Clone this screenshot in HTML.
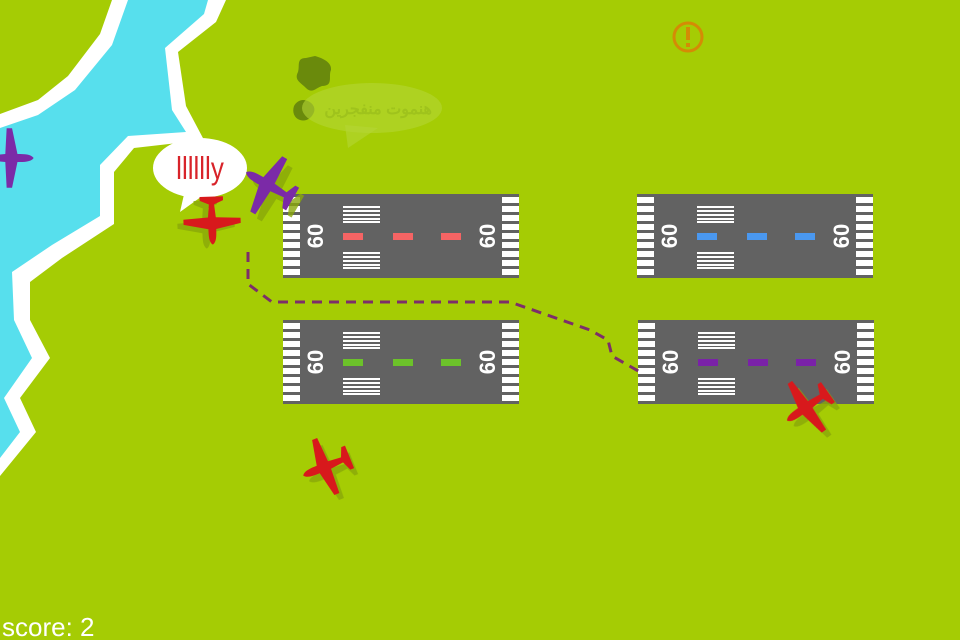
<!DOCTYPE html>
<html><head><meta charset="utf-8"><style>
html,body{margin:0;padding:0;background:#a5cc04;width:960px;height:640px;overflow:hidden}
svg{display:block}
text{font-family:"Liberation Sans",sans-serif}
</style></head><body>
<svg width="960" height="640" viewBox="0 0 960 640" xmlns="http://www.w3.org/2000/svg">
<defs>
<g id="stripes">
<rect x="0" y="3" width="17" height="6" fill="#fff"/><rect x="0" y="12" width="17" height="6" fill="#fff"/><rect x="0" y="21" width="17" height="6" fill="#fff"/><rect x="0" y="30" width="17" height="6" fill="#fff"/><rect x="0" y="39" width="17" height="6" fill="#fff"/><rect x="0" y="48" width="17" height="6" fill="#fff"/><rect x="0" y="57" width="17" height="6" fill="#fff"/><rect x="0" y="66" width="17" height="6" fill="#fff"/><rect x="0" y="75" width="17" height="6" fill="#fff"/>
</g>
<g id="bars">
<rect x="0" y="0" width="37" height="2" fill="#fff"/><rect x="0" y="4" width="37" height="2" fill="#fff"/><rect x="0" y="8" width="37" height="2" fill="#fff"/><rect x="0" y="12" width="37" height="2" fill="#fff"/><rect x="0" y="15" width="37" height="2" fill="#fff"/>
</g>
<g id="rw">
<rect x="0" y="0" width="236" height="84" fill="#626262"/>
<use href="#stripes"/><use href="#stripes" x="219"/>
<use href="#bars" x="60" y="12"/><use href="#bars" x="60" y="58"/>
</g>
<g id="plane">
<path d="M0,-19 C3,-17 3,-12 3,-7 L22,-3 L22,1 L3,2 L2,12 L9,15 L9,18 L-9,18 L-9,15 L-2,12 L-3,2 L-22,1 L-22,-3 L-3,-7 C-3,-12 -3,-17 0,-19Z"/>
</g>
</defs>

<!-- river -->
<path d="M0,114 L38,100 L68,76 L100,34 L112,0 L226,0 L216,22 L178,52 L186,106 L204,140 L134,148 L114,172 L114,224 L62,258 L30,282 L30,320 L50,358 L20,398 L36,432 L0,476 Z" fill="#fff"/>
<path d="M0,128 L38,115 L75,90 L112,45 L128,0 L208,0 L204,14 L165,48 L172,110 L186,132 L128,136 L100,165 L100,216 L52,245 L12,272 L14,320 L32,358 L4,398 L20,432 L0,458 Z" fill="#57dfed"/>

<!-- trees -->
<path d="M315,56 C322,58 332,62 331,70 C328,76 334,86 322,86 C316,88 312,94 306,88 C300,82 294,80 298,72 C300,66 296,58 306,58Z" fill="#6a8a0c"/>
<path d="M303,100 C310,100 316,106 314,112 C312,118 306,122 300,120 C294,118 292,112 294,106 C296,102 300,100 303,100Z" fill="#6a8a0c"/>
<!-- faded bubble -->
<ellipse cx="372" cy="108" rx="70" ry="25" fill="#b4d635" opacity="0.6"/>
<path d="M345,125 L378,128 L348,148Z" fill="#b4d635" opacity="0.6"/>
<text x="432" y="114" font-size="16" font-weight="bold" fill="#9fc31c" text-anchor="end" font-family="Liberation Sans,DejaVu Sans,sans-serif">هنموت منفجرين</text>

<!-- warning -->
<circle cx="688" cy="37" r="14" fill="none" stroke="#d48b05" stroke-width="3"/>
<rect x="686" y="27" width="4" height="13" fill="#d48b05"/><rect x="686" y="43" width="4" height="4" fill="#d48b05"/>

<!-- runways -->
<g transform="translate(283,194)"><use href="#rw"/>
<rect x="60" y="39" width="20" height="7" fill="#f56464"/><rect x="110" y="39" width="20" height="7" fill="#f56464"/><rect x="158" y="39" width="20" height="7" fill="#f56464"/>
<text transform="translate(32,42) rotate(-90)" font-size="22" font-weight="bold" fill="#fff" text-anchor="middle" dy="8">60</text>
<text transform="translate(204,42) rotate(-90)" font-size="22" font-weight="bold" fill="#fff" text-anchor="middle" dy="8">60</text></g>
<g transform="translate(637,194)"><use href="#rw"/>
<rect x="60" y="39" width="20" height="7" fill="#4a98f0"/><rect x="110" y="39" width="20" height="7" fill="#4a98f0"/><rect x="158" y="39" width="20" height="7" fill="#4a98f0"/>
<text transform="translate(32,42) rotate(-90)" font-size="22" font-weight="bold" fill="#fff" text-anchor="middle" dy="8">60</text>
<text transform="translate(204,42) rotate(-90)" font-size="22" font-weight="bold" fill="#fff" text-anchor="middle" dy="8">60</text></g>
<g transform="translate(283,320)"><use href="#rw"/>
<rect x="60" y="39" width="20" height="7" fill="#6cc22a"/><rect x="110" y="39" width="20" height="7" fill="#6cc22a"/><rect x="158" y="39" width="20" height="7" fill="#6cc22a"/>
<text transform="translate(32,42) rotate(-90)" font-size="22" font-weight="bold" fill="#fff" text-anchor="middle" dy="8">60</text>
<text transform="translate(204,42) rotate(-90)" font-size="22" font-weight="bold" fill="#fff" text-anchor="middle" dy="8">60</text></g>
<g transform="translate(638,320)"><use href="#rw"/>
<rect x="60" y="39" width="20" height="7" fill="#7a22a8"/><rect x="110" y="39" width="20" height="7" fill="#7a22a8"/><rect x="158" y="39" width="20" height="7" fill="#7a22a8"/>
<text transform="translate(32,42) rotate(-90)" font-size="22" font-weight="bold" fill="#fff" text-anchor="middle" dy="8">60</text>
<text transform="translate(204,42) rotate(-90)" font-size="22" font-weight="bold" fill="#fff" text-anchor="middle" dy="8">60</text></g>

<!-- dashed path -->
<path d="M248,252 L248,284 L272,302 L510,302 L590,330 L608,340 L612,356 L640,372" fill="none" stroke="#7d2e6a" stroke-width="3" stroke-dasharray="10,7"/>

<!-- speech bubble -->
<ellipse cx="200" cy="168" rx="47" ry="30" fill="#fff"/>
<path d="M185,190 L205,194 L180,212Z" fill="#fff"/>
<text x="200" y="178" font-size="26" fill="#d8232a" text-anchor="middle" transform="translate(200,172) scale(1,1.2) translate(-200,-172)" font-family="Liberation Sans,DejaVu Sans,sans-serif">lllllly</text>

<!-- planes -->
<g fill="#8aa80a" opacity="0.8">
<use href="#plane" transform="translate(206,224) rotate(178) scale(1.3)"/>
<use href="#plane" transform="translate(276,194) rotate(-60) scale(1.4)"/>
<use href="#plane" transform="translate(814,412) rotate(-125) scale(1.3)"/>
<use href="#plane" transform="translate(332,472) rotate(-112) scale(1.3)"/>
</g>
<g fill="#d8191c">
<use href="#plane" transform="translate(212,220) rotate(178) scale(1.3)"/>
<use href="#plane" transform="translate(808,406) rotate(-125) scale(1.35)"/>
<use href="#plane" transform="translate(327,466) rotate(-112) scale(1.35)"/>
</g>
<g fill="#7b2aa7">
<use href="#plane" transform="translate(270,186) rotate(-60) scale(1.45)"/>
<use href="#plane" transform="translate(8,158) rotate(90) scale(1.35)"/>
</g>

<text x="2" y="636" font-size="26" fill="#fff">score: 2</text>
</svg>
</body></html>
